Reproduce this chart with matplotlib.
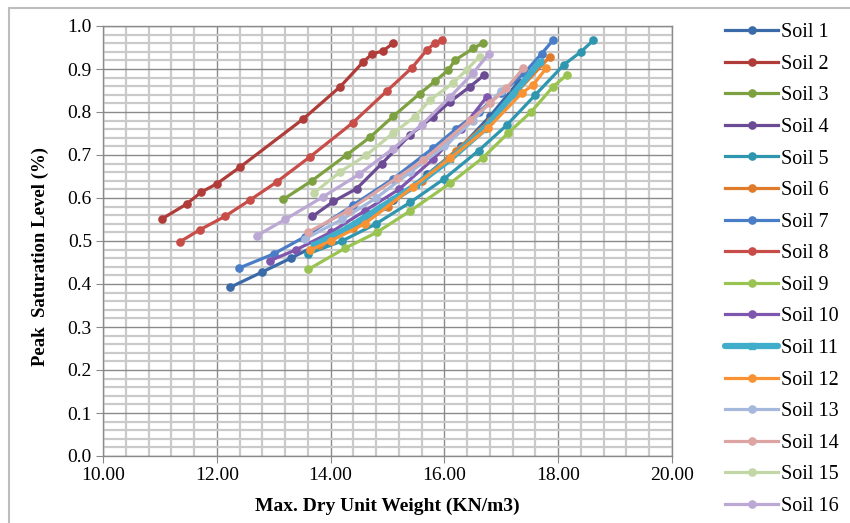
import matplotlib
matplotlib.use("Agg")
import matplotlib.pyplot as plt
from matplotlib.ticker import MultipleLocator, FormatStrFormatter
from matplotlib.lines import Line2D

plt.rcParams['font.family'] = ['Liberation Serif', 'DejaVu Serif']

soil_names = ["Soil %d" % i for i in range(1, 17)]

# max dry unit weight (KN/m3) / peak saturation level, one pair of lists per soil
soil1_x = [12.23, 12.8, 13.3, 13.9, 14.5, 15.1, 15.7, 16.3, 16.8, 17.3]
soil1_y = [0.392, 0.428, 0.46, 0.50, 0.545, 0.595, 0.655, 0.72, 0.79, 0.87]
soil2_x = [11.03, 11.47, 11.73, 12.00, 12.41, 13.52, 14.17, 14.57, 14.73, 14.92, 15.10]
soil2_y = [0.551, 0.586, 0.614, 0.633, 0.672, 0.784, 0.859, 0.916, 0.935, 0.942, 0.960]
soil3_x = [13.17, 13.67, 14.28, 14.69, 15.10, 15.57, 15.83, 16.07, 16.19, 16.51, 16.68]
soil3_y = [0.597, 0.640, 0.700, 0.741, 0.790, 0.843, 0.871, 0.898, 0.921, 0.948, 0.961]
soil4_x = [13.68, 14.05, 14.46, 14.90, 15.40, 15.80, 16.10, 16.45, 16.70]
soil4_y = [0.557, 0.592, 0.622, 0.680, 0.747, 0.789, 0.824, 0.859, 0.886]
soil5_x = [13.6, 14.2, 14.8, 15.4, 16.0, 16.6, 17.1, 17.6, 18.1, 18.4, 18.62]
soil5_y = [0.47, 0.50, 0.54, 0.59, 0.645, 0.71, 0.77, 0.84, 0.91, 0.94, 0.967]
soil6_x = [13.8, 14.4, 15.0, 15.6, 16.2, 16.8, 17.3, 17.85]
soil6_y = [0.49, 0.53, 0.58, 0.64, 0.71, 0.78, 0.85, 0.928]
soil7_x = [12.39, 13.0, 13.55, 14.4, 15.1, 15.8, 16.2, 16.6, 17.0, 17.4, 17.71, 17.91]
soil7_y = [0.437, 0.47, 0.51, 0.584, 0.645, 0.716, 0.76, 0.80, 0.845, 0.89, 0.936, 0.967]
soil8_x = [11.35, 11.70, 12.14, 12.58, 13.05, 13.64, 14.39, 14.99, 15.43, 15.69, 15.83, 15.95]
soil8_y = [0.498, 0.526, 0.557, 0.595, 0.637, 0.696, 0.775, 0.849, 0.903, 0.944, 0.960, 0.967]
soil9_x = [13.61, 14.25, 14.81, 15.40, 16.10, 16.68, 17.12, 17.53, 17.91, 18.15]
soil9_y = [0.434, 0.483, 0.520, 0.570, 0.634, 0.694, 0.751, 0.801, 0.859, 0.886]
soil10_x = [12.93, 13.4, 14.0, 14.6, 15.2, 15.8, 16.3, 16.75]
soil10_y = [0.454, 0.48, 0.52, 0.57, 0.62, 0.69, 0.76, 0.836]
soil11_x = [13.7, 14.3, 14.9, 15.5, 16.1, 16.7, 17.2, 17.68]
soil11_y = [0.49, 0.53, 0.58, 0.63, 0.69, 0.76, 0.84, 0.917]
soil12_x = [13.64, 14.0, 14.6, 15.45, 16.10, 16.77, 17.36, 17.56, 17.79]
soil12_y = [0.479, 0.50, 0.54, 0.626, 0.692, 0.763, 0.844, 0.863, 0.902]
soil13_x = [13.55, 14.2, 14.8, 15.4, 16.0, 16.5, 17.0]
soil13_y = [0.505, 0.55, 0.60, 0.66, 0.72, 0.78, 0.85]
soil14_x = [13.6, 14.3, 15.16, 15.63, 16.45, 16.80, 17.09, 17.39]
soil14_y = [0.52, 0.57, 0.646, 0.688, 0.781, 0.820, 0.855, 0.902]
soil15_x = [13.70, 14.17, 14.63, 15.10, 15.48, 15.75, 16.15, 16.39, 16.62]
soil15_y = [0.611, 0.661, 0.700, 0.751, 0.789, 0.828, 0.867, 0.898, 0.929]
soil16_x = [12.70, 13.2, 13.87, 14.5, 15.1, 15.6, 16.1, 16.5, 16.78]
soil16_y = [0.512, 0.55, 0.603, 0.655, 0.715, 0.77, 0.835, 0.89, 0.935]

soil_x = [soil1_x, soil2_x, soil3_x, soil4_x, soil5_x, soil6_x, soil7_x, soil8_x,
          soil9_x, soil10_x, soil11_x, soil12_x, soil13_x, soil14_x, soil15_x, soil16_x]
soil_y = [soil1_y, soil2_y, soil3_y, soil4_y, soil5_y, soil6_y, soil7_y, soil8_y,
          soil9_y, soil10_y, soil11_y, soil12_y, soil13_y, soil14_y, soil15_y, soil16_y]

colors = ['#3A6AA8', '#B03C3A', '#7DA140', '#6A4B94', '#2E96AE', '#DF7B2A', '#4A7DC8', '#C84C48',
          '#9AC452', '#7E56AE', '#40AECB', '#F89232', '#A6B9DC', '#DCA5A3', '#C3D7A6', '#BBA8D4']

fig = plt.figure(figsize=(8.5, 5.23), dpi=100)
ax = fig.add_axes([103 / 850, 1 - 456 / 523, (672 - 103) / 850, (456 - 26) / 523])

for i, name in enumerate(soil_names):
    if i == 10:
        ax.plot(soil_x[i], soil_y[i], color=colors[i], lw=4.5, marker='s', ms=4.5,
                label=name, solid_capstyle='round')
    else:
        ax.plot(soil_x[i], soil_y[i], color=colors[i], lw=2.3, marker='o', ms=5.2,
                label=name, solid_joinstyle='round')

ax.set_xlim(10, 20)
ax.set_ylim(0, 1.0)
ax.xaxis.set_major_locator(MultipleLocator(2))
ax.xaxis.set_minor_locator(MultipleLocator(0.4))
ax.yaxis.set_major_locator(MultipleLocator(0.1))
ax.yaxis.set_minor_locator(MultipleLocator(0.02))
ax.xaxis.set_major_formatter(FormatStrFormatter('%.2f'))
ax.yaxis.set_major_formatter(FormatStrFormatter('%.1f'))
ax.grid(which='minor', color='#CACACA', lw=1.6)
ax.grid(which='major', color='#8A8A8A', lw=1.0)
ax.set_axisbelow(True)
for s in ax.spines.values():
    s.set_color('#8A8A8A')
    s.set_linewidth(1.0)
ax.tick_params(which='major', direction='out', length=5, color='#8A8A8A', labelsize=14,
               pad=3)
ax.tick_params(which='minor', length=0)

ax.set_xlabel('Max. Dry Unit Weight (KN/m3)', fontsize=14, fontweight='bold')
ax.set_ylabel('Peak  Saturation Level (%)', fontsize=13.5, fontweight='bold')
ax.xaxis.set_label_coords(0.5, -(498 - 456) / 430)
ax.yaxis.set_label_coords(-(103 - 49) / 569, (456 - 256) / 430)

ax.legend(loc='center left', bbox_to_anchor=(725 / 850, 1 - 269.5 / 523),
          bbox_transform=fig.transFigure, frameon=False, fontsize=14.5,
          handlelength=2.65, handletextpad=0.15, labelspacing=0.62,
          borderpad=0, borderaxespad=0, numpoints=1)

# chart area border
fig.add_artist(Line2D([9 / 850, 9 / 850], [0, 1 - 8 / 523], transform=fig.transFigure,
                      color='#BDBDBD', lw=1.5))
fig.add_artist(Line2D([9 / 850, 1], [1 - 8 / 523, 1 - 8 / 523], transform=fig.transFigure,
                      color='#BDBDBD', lw=1.5))

fig.savefig('out.png', dpi=100)
